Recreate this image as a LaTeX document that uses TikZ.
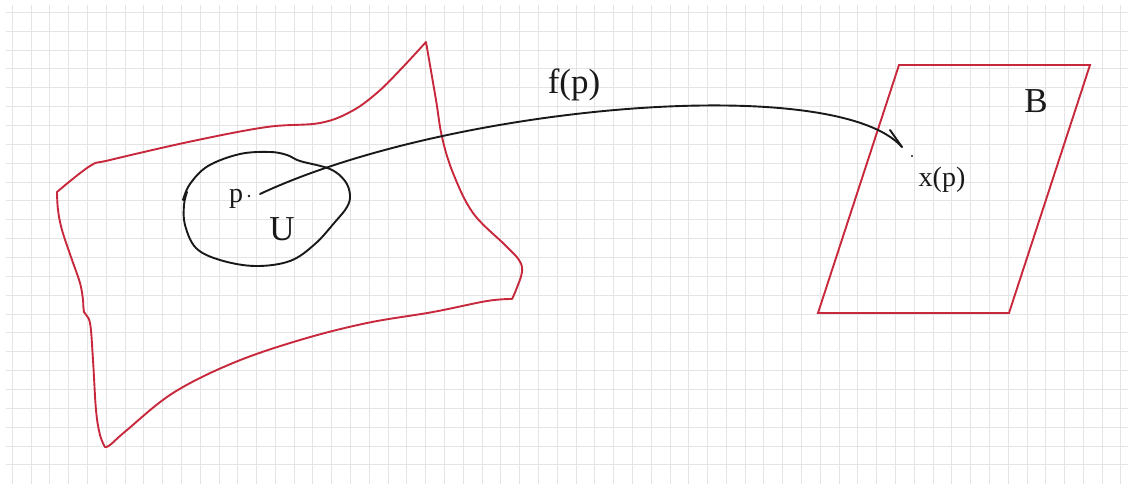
\documentclass[tikz,border=0pt]{standalone}
\usepackage{fontspec}
\setmainfont{Liberation Serif}
\definecolor{redline}{RGB}{200,40,60}
\definecolor{gridgray}{RGB}{228,228,228}
\definecolor{ink}{RGB}{25,25,25}
\begin{document}
\begin{tikzpicture}[x=1pt,y=-1pt,
  gridline/.style={draw=gridgray,line width=0.9pt},
  redstroke/.style={draw=redline,line width=1.9pt,line join=round,line cap=round},
  inkstroke/.style={draw=ink,line width=1.9pt,line cap=round,line join=round},
  lbl/.style={inner sep=0pt,text=ink},
  big/.style={lbl,font=\fontsize{35}{40}\selectfont},
  mid/.style={lbl,font=\fontsize{28}{32}\selectfont}]
\useasboundingbox (0,0) rectangle (1128,484);
\fill[white] (0,0) rectangle (1128,484);
\foreach \i in {0,...,59} \draw[gridline] ({12.3+18.79*\i},5) -- ({12.3+18.79*\i},484);
\foreach \j in {0,...,24} \draw[gridline] (6,{12.3+18.86*\j}) -- (1128,{12.3+18.86*\j});
% surface
\draw[redstroke]
  plot[smooth,tension=0.6] coordinates {(426,42) (402,68) (378,92) (352,111) (320,123) (267,127) (193,141) (110,160) (90,166) (57,192)}
  -- plot[smooth,tension=0.6] coordinates {(57,192) (58,210) (62,230) (71,257) (80,283) (83,300) (84,312) (90,323) (93,360) (96,410) (100,435) (105,447)}
  -- plot[smooth,tension=0.6] coordinates {(105,447) (110,445) (127,430) (173,393) (233,363) (300,340) (367,323) (433,312) (487,301) (512,299)}
  -- plot[smooth,tension=0.6] coordinates {(512,299) (516,290) (522,272) (519,260) (505,245) (473,213) (453,173) (442,137) (436,100) (426,42)};
% region U
\draw[inkstroke] plot[smooth,tension=0.6] coordinates {(183,200) (190,184) (208,166) (240,154) (270,152) (287,155) (300,161) (330,169) (345,181) (350,195) (347,207) (335,222) (315,244) (290,261) (255,266) (220,260) (196,248) (185,225) (184,205) (187,192)};
% parallelogram B
\draw[redstroke,line join=miter] (899,65) -- (1090,65) -- (1009,313) -- (818,313) -- cycle;
% labels
\node[big] (fp) at (574,85) {f(p)};
\node[big] (B) at (1036,101) {B};
\node[big] (U) at (282,229) {U};
\node[mid] (plabel) at (236,199) {p};
\node[mid] (xplabel) at (942,180) {x(p)};
% points
\coordinate (p) at (260,194);
\coordinate (xp) at (902,147);
\coordinate (barb) at (890,130);
\fill[ink] (249,196) circle (1.4);
\fill[ink] (912,156) circle (1.1);
% map
\draw[inkstroke] (p) .. controls (450,105) and (835,72) .. (xp);
\draw[inkstroke] (barb) -- (xp);
\end{tikzpicture}
\end{document}
